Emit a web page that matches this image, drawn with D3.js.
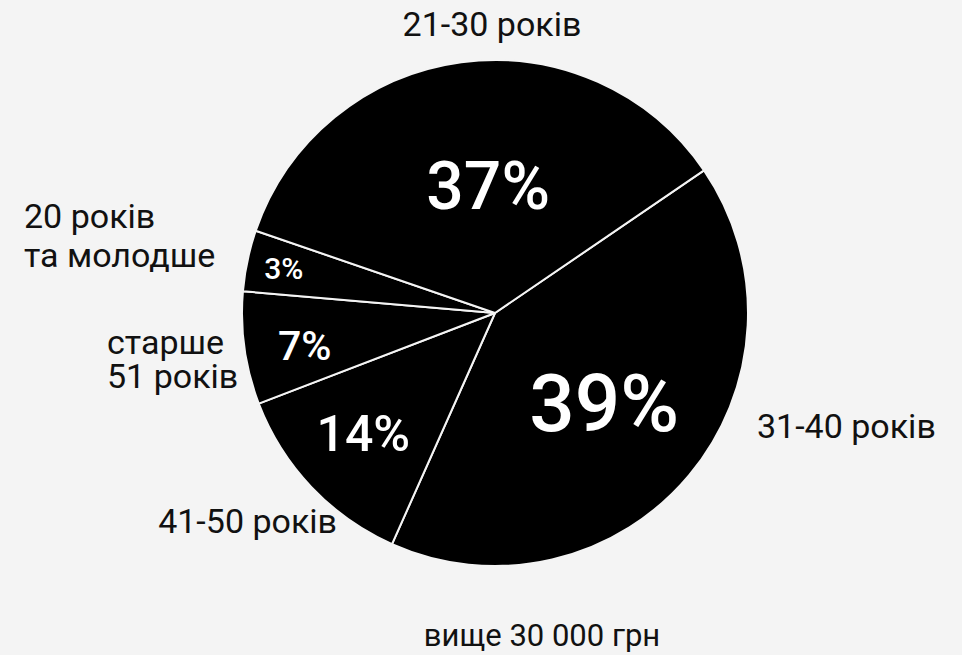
<!DOCTYPE html>
<html>
<head>
<meta charset="utf-8">
<script src="https://cdn.jsdelivr.net/npm/d3@7"></script>
<style>
  html, body { margin: 0; padding: 0; background: #f4f4f4; }
  svg { display: block; font-family: Roboto, "Noto Sans", sans-serif; }
</style>
</head>
<body>
<svg id="drawing_region"></svg>
<script>
// age groups, in drawing order (clockwise from upper right)
const categories = ["31-40 років", "41-50 років", "старше 51 років", "20 років та молодше", "21-30 років"];
// slice shares
const shares = [41.2, 12.5, 7.2, 3.9, 35.2];
// percentages printed inside the slices
const percentLabels = ["39%", "14%", "7%", "3%", "37%"];
// stray caption at the bottom
const caption = "вище 30 000 грн";

const config = {
    width: 962,
    height: 655,
    cx: 495,
    cy: 313,
    radius: 253,
    startDeg: 55.7
};

// inside label: distance from centre, angle nudge (deg), font size
const insideLayout = [
    {r: 141, da: -0.6, size: 80},
    {r: 178, da: 1.2,  size: 50},
    {r: 193, da: -1.5, size: 41},
    {r: 216, da: 0,    size: 30},
    {r: 128, da: 4.6,  size: 66}
];

// outside labels: x, baselines, anchor
const outsideLayout = [
    {x: 757, y: [438], anchor: "start"},
    {x: 337, y: [533], anchor: "end"},
    {x: 107, y: [354, 388], anchor: "start"},
    {x: 24,  y: [228, 267], anchor: "start"},
    {x: 492, y: [36], anchor: "middle"}
];
const outsideLines = [
    ["31-40 років"],
    ["41-50 років"],
    ["старше", "51 років"],
    ["20 років", "та молодше"],
    ["21-30 років"]
];

const data = categories.map((c, i) => ({label: c, value: shares[i], pct: percentLabels[i]}));

const svg = d3.select('#drawing_region')
    .attr('width', config.width)
    .attr('height', config.height);

svg.append('rect')
    .attr('width', config.width)
    .attr('height', config.height)
    .attr('fill', '#f4f4f4');

const g = svg.append('g')
    .attr('transform', `translate(${config.cx}, ${config.cy})`);

const start = config.startDeg * Math.PI / 180;
const pie = d3.pie()
    .sort(null)
    .value(d => d.value)
    .startAngle(start)
    .endAngle(start + 2 * Math.PI);

const arc = d3.arc()
    .innerRadius(0)
    .outerRadius(config.radius);

const arcs = pie(data);

g.selectAll('path.slice')
    .data(arcs)
    .enter()
    .append('path')
    .attr('class', 'slice')
    .attr('d', arc)
    .attr('fill', '#000')
    .attr('stroke', '#f4f4f4')
    .attr('stroke-width', 2)
    .attr('stroke-linejoin', 'round');

// percentages inside
g.selectAll('text.pct')
    .data(arcs)
    .enter()
    .append('text')
    .attr('class', 'pct')
    .attr('transform', (d, i) => {
        const a = (d.startAngle + d.endAngle) / 2 + insideLayout[i].da * Math.PI / 180;
        const r = insideLayout[i].r;
        return `translate(${r * Math.sin(a)}, ${-r * Math.cos(a)})`;
    })
    .attr('text-anchor', 'middle')
    .attr('dy', '0.36em')
    .attr('fill', '#fff')
    .style('font-weight', 500)
    .style('font-size', (d, i) => insideLayout[i].size + 'px')
    .text(d => d.data.pct);

// category labels outside
const outer = svg.selectAll('text.cat')
    .data(outsideLines)
    .enter()
    .append('text')
    .attr('class', 'cat')
    .attr('fill', '#111')
    .attr('text-anchor', (d, i) => outsideLayout[i].anchor)
    .style('font-size', '34px');

outer.each(function(lines, i) {
    const t = d3.select(this);
    lines.forEach((ln, j) => {
        t.append('tspan')
            .attr('x', outsideLayout[i].x)
            .attr('y', outsideLayout[i].y[j])
            .text(ln);
    });
});

svg.append('text')
    .attr('x', 542)
    .attr('y', 646)
    .attr('text-anchor', 'middle')
    .attr('fill', '#111')
    .style('font-size', '31px')
    .text(caption);
</script>
</body>
</html>
